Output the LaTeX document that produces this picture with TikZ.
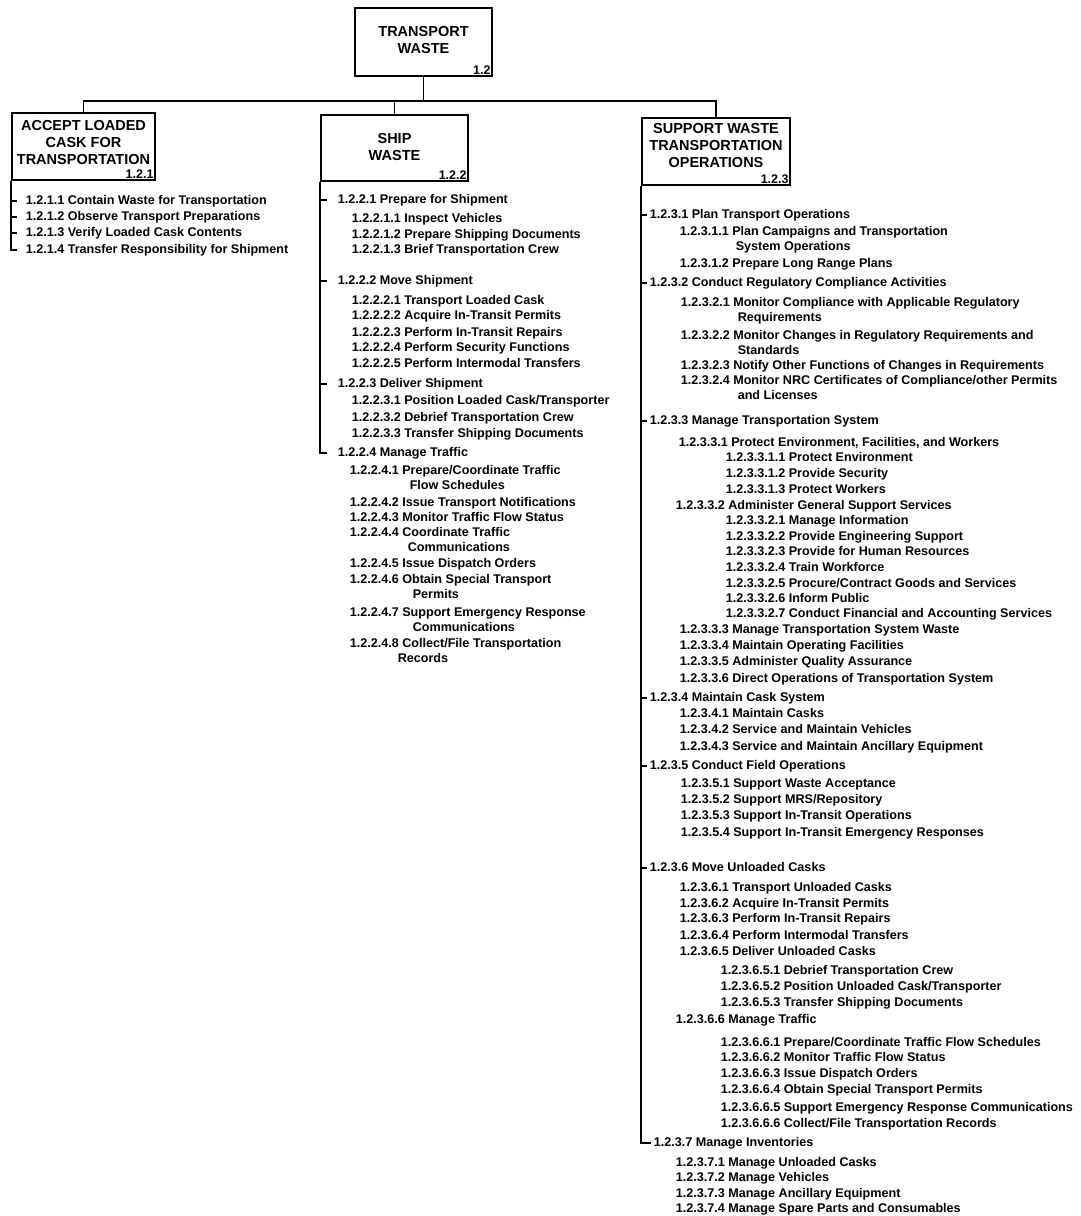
\documentclass[tikz,border=0pt]{standalone}
\usepackage{fontspec}
\setmainfont{Liberation Sans}
\usepackage{tikz}
\usetikzlibrary{positioning}

\begin{document}
\begin{tikzpicture}
        [x=1pt, y=-1pt, line width=1.5pt,
        box/.style={rectangle, draw=black, line width=1.6pt, inner sep=0pt},
        title/.style={align=center, inner sep=0pt, font=\fontsize{14.5}{17}\selectfont\bfseries},
        num/.style={inner sep=1.5pt, font=\fontsize{12.5}{14}\selectfont\bfseries},
        item/.style={anchor=base west, inner sep=0pt, align=left, font=\fontsize{12.6}{15.5}\selectfont\bfseries},
        lvl/.style={item, text height=9pt, text depth=3pt},
        tree/.style={line width=1.5pt}]
        \useasboundingbox (0,0) rectangle (1080,1216);

        % boxes
        \node[box, minimum width=137pt, minimum height=68pt] (top) at (423.5,42) {};
        \node[title] (toptitle) [below=18pt of top.north] {TRANSPORT\\WASTE};
        \node[num] (topnum) [above left=0pt of top.south east] {1.2};

        \node[box, minimum width=143pt, minimum height=67pt] (acc) at (83.5,146.5) {};
        \node[title] (acctitle) [below=7pt of acc.north] {ACCEPT LOADED\\CASK FOR\\TRANSPORTATION};
        \node[num] (accnum) [above left=0pt of acc.south east] {1.2.1};

        \node[box, minimum width=147pt, minimum height=66pt] (ship) at (394.5,148) {};
        \node[title] (shiptitle) [below=18pt of ship.north] {SHIP\\WASTE};
        \node[num] (shipnum) [above left=0pt of ship.south east] {1.2.2};

        \node[box, minimum width=148pt, minimum height=67pt] (sup) at (716,151.5) {};
        \node[title] (suptitle) [below=5pt of sup.north] {SUPPORT WASTE\\TRANSPORTATION\\OPERATIONS};
        \node[num] (supnum) [above left=0pt of sup.south east] {1.2.3};

        \coordinate (bus) at (423.5,101);
        \draw (top) -- (bus);
        \draw (bus) -| (acc);
        \draw (bus) -| (ship);
        \draw (bus) -| (sup);

        % 1.2.1
        \node[lvl] (a1) at (25,204) {1.2.1.1 Contain Waste for Transportation};
        \node[lvl] (a2) at (25,220) {1.2.1.2 Observe Transport Preparations};
        \node[lvl] (a3) at (25,236) {1.2.1.3 Verify Loaded Cask Contents};
        \node[lvl] (a4) at (25,253) {1.2.1.4 Transfer Responsibility for Shipment};

        % 1.2.2 (two-line items sit on the baseline of their last line)
        \node[lvl]  (s1)  at (337,203) {1.2.2.1 Prepare for Shipment};
        \node[item] (s11) at (351,222) {1.2.2.1.1 Inspect Vehicles};
        \node[item] (s12) at (351,238) {1.2.2.1.2 Prepare Shipping Documents};
        \node[item] (s13) at (351,253) {1.2.2.1.3 Brief Transportation Crew};
        \node[lvl]  (s2)  at (337,284) {1.2.2.2 Move Shipment};
        \node[item] (s21) at (351,304) {1.2.2.2.1 Transport Loaded Cask};
        \node[item] (s22) at (351,319) {1.2.2.2.2 Acquire In-Transit Permits};
        \node[item] (s23) at (351,336) {1.2.2.2.3 Perform In-Transit Repairs};
        \node[item] (s24) at (351,351) {1.2.2.2.4 Perform Security Functions};
        \node[item] (s25) at (351,367) {1.2.2.2.5 Perform Intermodal Transfers};
        \node[lvl]  (s3)  at (337,387) {1.2.2.3 Deliver Shipment};
        \node[item] (s31) at (351,404) {1.2.2.3.1 Position Loaded Cask/Transporter};
        \node[item] (s32) at (351,421) {1.2.2.3.2 Debrief Transportation Crew};
        \node[item] (s33) at (351,437) {1.2.2.3.3 Transfer Shipping Documents};
        \node[lvl]  (s4)  at (337,456) {1.2.2.4 Manage Traffic};
        \node[item] (s41) at (349,489.5) {1.2.2.4.1 Prepare/Coordinate Traffic\\\hspace*{60pt}Flow Schedules};
        \node[item] (s42) at (349,506) {1.2.2.4.2 Issue Transport Notifications};
        \node[item] (s43) at (349,521) {1.2.2.4.3 Monitor Traffic Flow Status};
        \node[item] (s44) at (349,551.5) {1.2.2.4.4 Coordinate Traffic\\\hspace*{58pt}Communications};
        \node[item] (s45) at (349,567) {1.2.2.4.5 Issue Dispatch Orders};
        \node[item] (s46) at (349,598.5) {1.2.2.4.6 Obtain Special Transport\\\hspace*{63pt}Permits};
        \node[item] (s47) at (349,631.5) {1.2.2.4.7 Support Emergency Response\\\hspace*{63pt}Communications};
        \node[item] (s48) at (349,662.5) {1.2.2.4.8 Collect/File Transportation\\\hspace*{48pt}Records};

        % 1.2.3
        \node[lvl]  (p1)   at (649,218)  {1.2.3.1 Plan Transport Operations};
        \node[item] (p11)  at (679,250.5)  {1.2.3.1.1 Plan Campaigns and Transportation\\\hspace*{56pt}System Operations};
        \node[item] (p12)  at (679,267)  {1.2.3.1.2 Prepare Long Range Plans};
        \node[lvl]  (p2)   at (649,286)  {1.2.3.2 Conduct Regulatory Compliance Activities};
        \node[item] (p21)  at (680,321.5)  {1.2.3.2.1 Monitor Compliance with Applicable Regulatory\\\hspace*{57pt}Requirements};
        \node[item] (p22)  at (680,354.5)  {1.2.3.2.2 Monitor Changes in Regulatory Requirements and\\\hspace*{57pt}Standards};
        \node[item] (p23)  at (680,369)  {1.2.3.2.3 Notify Other Functions of Changes in Requirements};
        \node[item] (p24)  at (680,399.5)  {1.2.3.2.4 Monitor NRC Certificates of Compliance/other Permits\\\hspace*{57pt}and Licenses};
        \node[lvl]  (p3)   at (649,424)  {1.2.3.3 Manage Transportation System};
        \node[item] (p31)  at (678,446)  {1.2.3.3.1 Protect Environment, Facilities, and Workers};
        \node[item] (p311) at (725,461)  {1.2.3.3.1.1 Protect Environment};
        \node[item] (p312) at (725,477)  {1.2.3.3.1.2 Provide Security};
        \node[item] (p313) at (725,493)  {1.2.3.3.1.3 Protect Workers};
        \node[item] (p32)  at (675,509)  {1.2.3.3.2 Administer General Support Services};
        \node[item] (p321) at (725,524)  {1.2.3.3.2.1 Manage Information};
        \node[item] (p322) at (725,540)  {1.2.3.3.2.2 Provide Engineering Support};
        \node[item] (p323) at (725,555)  {1.2.3.3.2.3 Provide for Human Resources};
        \node[item] (p324) at (725,571)  {1.2.3.3.2.4 Train Workforce};
        \node[item] (p325) at (725,587)  {1.2.3.3.2.5 Procure/Contract Goods and Services};
        \node[item] (p326) at (725,602)  {1.2.3.3.2.6 Inform Public};
        \node[item] (p327) at (725,617)  {1.2.3.3.2.7 Conduct Financial and Accounting Services};
        \node[item] (p33)  at (679,633)  {1.2.3.3.3 Manage Transportation System Waste};
        \node[item] (p34)  at (679,649)  {1.2.3.3.4 Maintain Operating Facilities};
        \node[item] (p35)  at (679,665)  {1.2.3.3.5 Administer Quality Assurance};
        \node[item] (p36)  at (679,682)  {1.2.3.3.6 Direct Operations of Transportation System};
        \node[lvl]  (p4)   at (649,701)  {1.2.3.4 Maintain Cask System};
        \node[item] (p41)  at (679,717)  {1.2.3.4.1 Maintain Casks};
        \node[item] (p42)  at (679,733)  {1.2.3.4.2 Service and Maintain Vehicles};
        \node[item] (p43)  at (679,750)  {1.2.3.4.3 Service and Maintain Ancillary Equipment};
        \node[lvl]  (p5)   at (649,769)  {1.2.3.5 Conduct Field Operations};
        \node[item] (p51)  at (680,787)  {1.2.3.5.1 Support Waste Acceptance};
        \node[item] (p52)  at (680,803)  {1.2.3.5.2 Support MRS/Repository};
        \node[item] (p53)  at (680,819)  {1.2.3.5.3 Support In-Transit Operations};
        \node[item] (p54)  at (680,836)  {1.2.3.5.4 Support In-Transit Emergency Responses};
        \node[lvl]  (p6)   at (649,871)  {1.2.3.6 Move Unloaded Casks};
        \node[item] (p61)  at (679,891)  {1.2.3.6.1 Transport Unloaded Casks};
        \node[item] (p62)  at (679,907)  {1.2.3.6.2 Acquire In-Transit Permits};
        \node[item] (p63)  at (679,922)  {1.2.3.6.3 Perform In-Transit Repairs};
        \node[item] (p64)  at (679,939)  {1.2.3.6.4 Perform Intermodal Transfers};
        \node[item] (p65)  at (679,955)  {1.2.3.6.5 Deliver Unloaded Casks};
        \node[item] (p651) at (720,974)  {1.2.3.6.5.1 Debrief Transportation Crew};
        \node[item] (p652) at (720,990)  {1.2.3.6.5.2 Position Unloaded Cask/Transporter};
        \node[item] (p653) at (720,1006) {1.2.3.6.5.3 Transfer Shipping Documents};
        \node[item] (p66)  at (675,1023) {1.2.3.6.6 Manage Traffic};
        \node[item] (p661) at (720,1046) {1.2.3.6.6.1 Prepare/Coordinate Traffic Flow Schedules};
        \node[item] (p662) at (720,1061) {1.2.3.6.6.2 Monitor Traffic Flow Status};
        \node[item] (p663) at (720,1077) {1.2.3.6.6.3 Issue Dispatch Orders};
        \node[item] (p664) at (720,1093) {1.2.3.6.6.4 Obtain Special Transport Permits};
        \node[item] (p665) at (720,1111) {1.2.3.6.6.5 Support Emergency Response Communications};
        \node[item] (p666) at (720,1127) {1.2.3.6.6.6 Collect/File Transportation Records};
        \node[lvl]  (p7)   at (653,1146) {1.2.3.7 Manage Inventories};
        \node[item] (p71)  at (675,1166) {1.2.3.7.1 Manage Unloaded Casks};
        \node[item] (p72)  at (675,1181) {1.2.3.7.2 Manage Vehicles};
        \node[item] (p73)  at (675,1197) {1.2.3.7.3 Manage Ancillary Equipment};
        \node[item] (p74)  at (675,1212) {1.2.3.7.4 Manage Spare Parts and Consumables};

        % tree lines
        \draw[tree, shorten >=8pt] (acc.south west) |- (a4);
        \path[tree, shorten >=8pt]
              (acc.south west |- a1) edge (a1)
              (acc.south west |- a2) edge (a2)
              (acc.south west |- a3) edge (a3);

        \draw[tree, shorten >=10pt] (ship.south west) |- (s4);
        \path[tree, shorten >=10pt]
              (ship.south west |- s1) edge (s1)
              (ship.south west |- s2) edge (s2)
              (ship.south west |- s3) edge (s3);

        \draw[tree, line width=2pt, shorten >=2pt] (sup.south west) |- (p7);
        \path[tree, shorten >=2pt]
              (sup.south west |- p1) edge (p1)
              (sup.south west |- p2) edge (p2)
              (sup.south west |- p3) edge (p3)
              (sup.south west |- p4) edge (p4)
              (sup.south west |- p5) edge (p5)
              (sup.south west |- p6) edge (p6);
\end{tikzpicture}
\end{document}
